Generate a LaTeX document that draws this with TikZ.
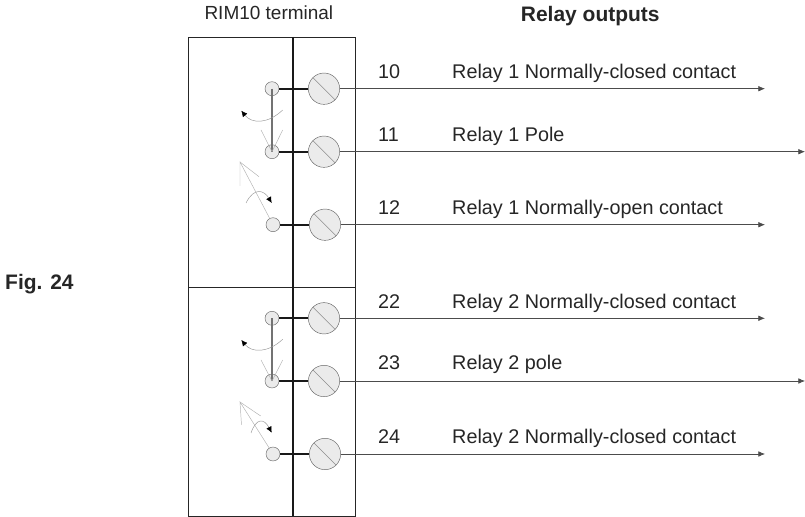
\documentclass[tikz,border=0pt]{standalone}
\usepackage{fontspec}
\setmainfont{Liberation Sans}
\usetikzlibrary{arrows.meta}

\begin{document}
\begin{tikzpicture}[x=0.03cm,y=-0.03cm,line join=miter]
	\tikzstyle{screw-node}=[circle,draw=black!60,fill=black!8,thin,inner sep=0pt,minimum size=0.94cm]
	\tikzstyle{contact-node}=[circle,draw=black!60,fill=black!8,thin,inner sep=0pt,minimum size=0.42cm]
	\tikzstyle{annot}=[anchor=base west,inner sep=0pt,text=black!85,font=\fontsize{16.9}{19}\selectfont]
	\tikzstyle{head}=[anchor=base west,inner sep=0pt,text=black!85,font=\fontsize{17.9}{20}\selectfont\bfseries]
	\tikzstyle{frame}=[draw=black!85,line width=0.7pt]
	\tikzstyle{stub}=[draw=black!90,line width=1.4pt]
	\tikzstyle{output}=[draw=black!70,line width=0.6pt,-{Latex[length=2mm,width=1.7mm]}]
	\tikzstyle{slot}=[draw=black!45,line width=0.5pt]
	\tikzstyle{lever}=[draw=black!30,line width=0.4pt]
	\tikzstyle{swing}=[draw=black!40,line width=0.4pt,-{Latex[length=1.8mm,width=1.7mm,black]}]
	\useasboundingbox (0,0) rectangle (805,517);

	% terminal frame
	\draw[frame] (188.7,37) rectangle (355,516);
	\draw[frame] (188.7,287) -- (355,287);
	\draw[draw=black!90,line width=1.1pt] (293,37) -- (293,516);

	% titles
	\node[annot,font=\fontsize{16.2}{19}\selectfont] (terminal-label) at (204.3,20) {RIM10 terminal};
	\node[head] (outputs-label) at (520.7,21.7) {Relay outputs};
	\node[head] (fig-label) at (5,290) {Fig. 24};

	% screws
	\node[screw-node] (s0) at (324,88.7) {};
	\node[screw-node] (s1) at (324,151.7) {};
	\node[screw-node] (s2) at (325,224.7) {};
	\node[screw-node] (s3) at (324,318.3) {};
	\node[screw-node] (s4) at (324,381) {};
	\node[screw-node] (s5) at (325,454) {};

	% contacts
	\node[contact-node] (c0) at (272,88.7) {};
	\node[contact-node] (c1) at (272,151.7) {};
	\node[contact-node] (c2) at (273,224.7) {};
	\node[contact-node] (c3) at (272,318.3) {};
	\node[contact-node] (c4) at (272,381) {};
	\node[contact-node] (c5) at (273,454) {};

	% output ends
	\coordinate (e0) at (765,88.7);
	\coordinate (e1) at (805,151.7);
	\coordinate (e2) at (765,224.7);
	\coordinate (e3) at (765,318.3);
	\coordinate (e4) at (805,381);
	\coordinate (e5) at (765,454);

	% stubs and outputs
	\draw[stub] (c0) -- (s0);
	\draw[stub] (c1) -- (s1);
	\draw[stub] (c2) -- (s2);
	\draw[stub] (c3) -- (s3);
	\draw[stub] (c4) -- (s4);
	\draw[stub] (c5) -- (s5);
	\draw[output] (s0) -- (e0);
	\draw[output] (s1) -- (e1);
	\draw[output] (s2) -- (e2);
	\draw[output] (s3) -- (e3);
	\draw[output] (s4) -- (e4);
	\draw[output] (s5) -- (e5);

	% screw slots
	\draw[slot] (s0.135) -- (s0.-45);
	\draw[slot] (s1.135) -- (s1.-45);
	\draw[slot] (s2.135) -- (s2.-45);
	\draw[slot] (s3.135) -- (s3.-45);
	\draw[slot] (s4.135) -- (s4.-45);
	\draw[slot] (s5.135) -- (s5.-45);

	% relay 1 switch
	\draw[draw=black!55,line width=1pt] (c0.center) -- (c1.center);
	\draw[lever] (c1.center) -- (261,130);
	\draw[lever] (c1.center) -- (282.7,130);
	\draw[swing] (282.7,110) .. controls (268,124) and (252,124) .. (241.3,110.7);
	\draw[lever] (c2) -- (240,162) -- (240,186);
	\draw[lever] (240,162) -- (259,176.7);
	\draw[swing] (246,203) .. controls (254,187) and (264,190) .. (271.7,203);

	% relay 2 switch
	\draw[draw=black!55,line width=1pt] (c3.center) -- (c4.center);
	\draw[lever] (c4.center) -- (261,360);
	\draw[lever] (c4.center) -- (282.7,360);
	\draw[swing] (282.7,339.3) .. controls (268,353) and (252,353) .. (241.3,340);
	\draw[lever] (c5) -- (240,402) -- (241.5,425);
	\draw[lever] (240,402) -- (260.7,416);
	\draw[swing] (251,433) .. controls (256,418) and (264,418) .. (271.7,432.7);

	% numbers
	\node[annot] (n0) at (378,78.3) {10};
	\node[annot] (n1) at (378,141.7) {11};
	\node[annot] (n2) at (378,214.3) {12};
	\node[annot] (n3) at (378,308.3) {22};
	\node[annot] (n4) at (378,370) {23};
	\node[annot] (n5) at (378,444) {24};

	% descriptions
	\node[annot] (d0) at (452,78.3) {Relay 1 Normally-closed contact};
	\node[annot] (d1) at (452,141.7) {Relay 1 Pole};
	\node[annot] (d2) at (452,214.3) {Relay 1 Normally-open contact};
	\node[annot] (d3) at (452,308.3) {Relay 2 Normally-closed contact};
	\node[annot] (d4) at (452,370) {Relay 2 pole};
	\node[annot] (d5) at (452,444) {Relay 2 Normally-closed contact};
\end{tikzpicture}
\end{document}
